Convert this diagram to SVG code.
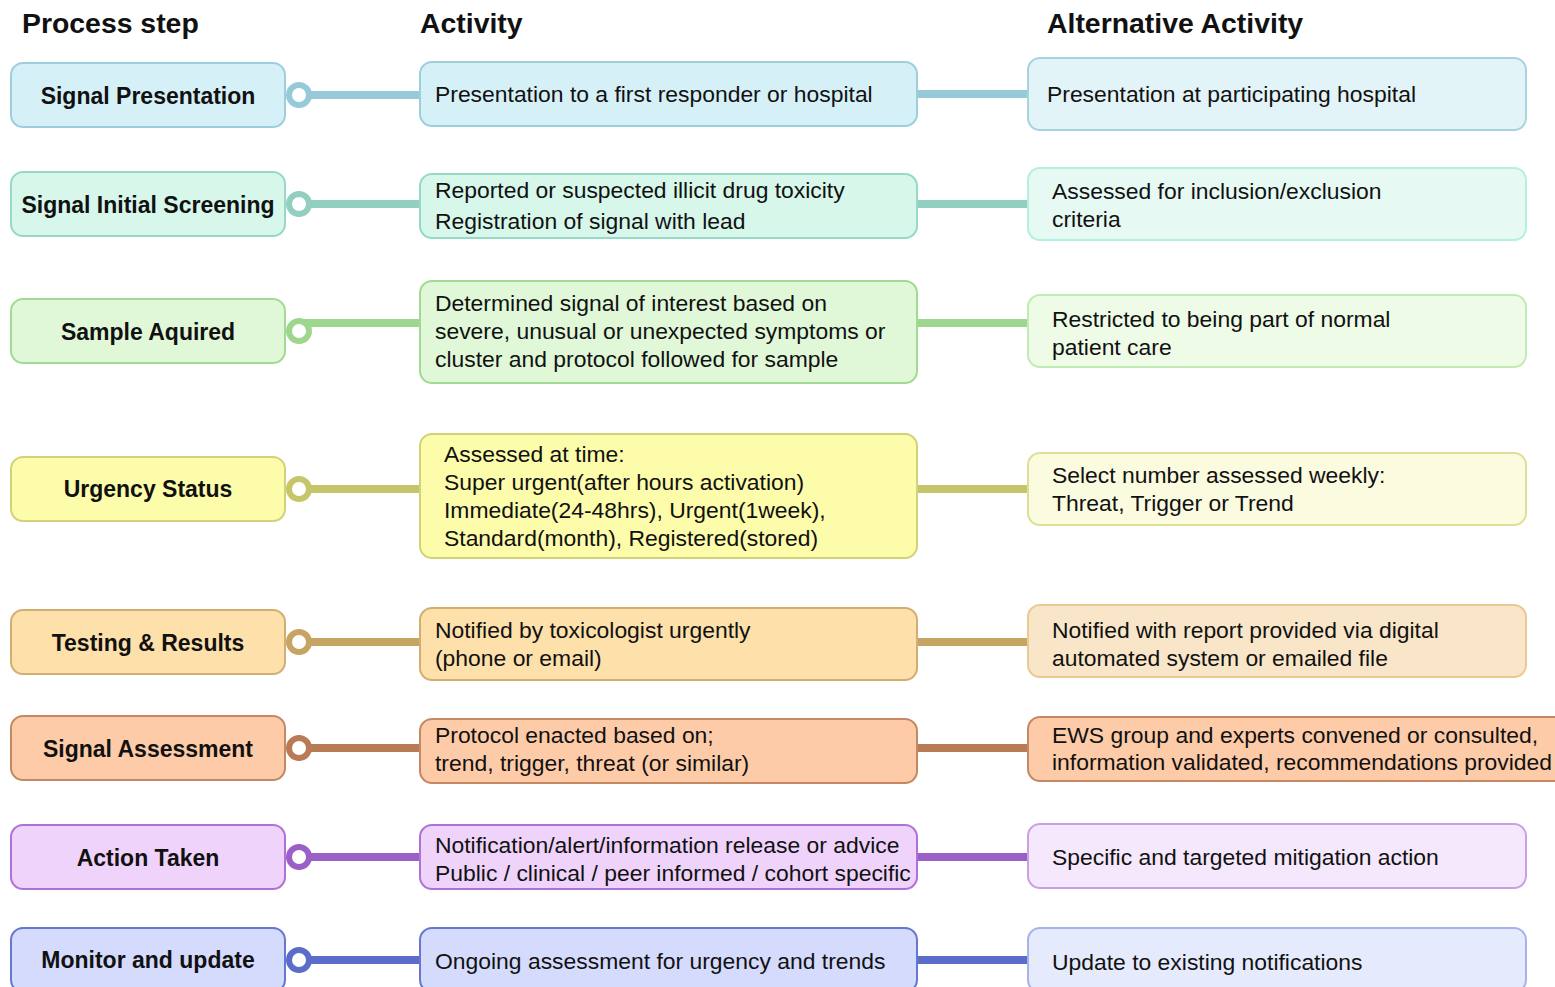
<svg xmlns="http://www.w3.org/2000/svg" width="1555" height="987" viewBox="0 0 1555 987">
<style>
text{font-family:"Liberation Sans",Arial,sans-serif;fill:#111;}
.h{font-size:28.4px;font-weight:bold;}
.l{font-size:23px;font-weight:bold;text-anchor:middle;}
.t{font-size:22.9px;}
rect{stroke-width:2;}
.c{fill:none;stroke-width:8;}
.o{fill:#fff;stroke-width:6;}
</style>
<rect width="1555" height="987" fill="#fff"/>
<g id="headers">
<text class="h" x="22" y="33">Process step</text>
<text class="h" x="420" y="33">Activity</text>
<text class="h" x="1047" y="33">Alternative Activity</text>
</g>
<g id="connectors">
<line class="c" stroke="#96cad8" x1="300" y1="95" x2="420" y2="95"/>
<line class="c" stroke="#96cad8" x1="917" y1="94" x2="1028" y2="94"/>
<line class="c" stroke="#92cfc0" x1="300" y1="204" x2="420" y2="204"/>
<line class="c" stroke="#92cfc0" x1="917" y1="204" x2="1028" y2="204"/>
<line class="c" stroke="#9dd68c" x1="300" y1="323" x2="420" y2="323"/>
<line class="c" stroke="#9dd68c" x1="917" y1="323" x2="1028" y2="323"/>
<line class="c" stroke="#c5c56a" x1="300" y1="489" x2="420" y2="489"/>
<line class="c" stroke="#c5c56a" x1="917" y1="489" x2="1028" y2="489"/>
<line class="c" stroke="#c6a462" x1="300" y1="642" x2="420" y2="642"/>
<line class="c" stroke="#c6a462" x1="917" y1="642" x2="1028" y2="642"/>
<line class="c" stroke="#b97b55" x1="300" y1="748" x2="420" y2="748"/>
<line class="c" stroke="#b97b55" x1="917" y1="748" x2="1028" y2="748"/>
<line class="c" stroke="#9b5fc8" x1="300" y1="857" x2="420" y2="857"/>
<line class="c" stroke="#9b5fc8" x1="917" y1="857" x2="1028" y2="857"/>
<line class="c" stroke="#5b6dc8" x1="300" y1="960" x2="420" y2="960"/>
<line class="c" stroke="#5b6dc8" x1="917" y1="960" x2="1028" y2="960"/>
<circle class="o" stroke="#96cad8" cx="299" cy="95" r="10"/>
<circle class="o" stroke="#92cfc0" cx="299" cy="204" r="10"/>
<circle class="o" stroke="#9dd68c" cx="299" cy="331" r="10"/>
<circle class="o" stroke="#c5c56a" cx="299" cy="489" r="10"/>
<circle class="o" stroke="#c6a462" cx="299" cy="642" r="10"/>
<circle class="o" stroke="#b97b55" cx="299" cy="748" r="10"/>
<circle class="o" stroke="#9b5fc8" cx="299" cy="857" r="10"/>
<circle class="o" stroke="#5b6dc8" cx="299" cy="960" r="10"/>
</g>
<g id="step1">
<rect x="11" y="63" width="274" height="64" rx="12" fill="#d6f0f7" stroke="#9ccfdb"/>
<text class="l" x="148" y="104">Signal Presentation</text>
</g>
<g id="act1">
<rect x="420" y="62" width="497" height="64" rx="12" fill="#d6f0f7" stroke="#9ccfdb"/>
<text class="t" x="435" y="102">Presentation to a first responder or hospital</text>
</g>
<g id="alt1">
<rect x="1028" y="58" width="498" height="72" rx="12" fill="#e3f4f8" stroke="#a6d3de"/>
<text class="t" x="1047" y="102">Presentation at participating hospital</text>
</g>
<g id="step2">
<rect x="11" y="172" width="274" height="64" rx="12" fill="#d6f7ea" stroke="#98d8c6"/>
<text class="l" x="148" y="213">Signal Initial Screening</text>
</g>
<g id="act2">
<rect x="420" y="174" width="497" height="64" rx="12" fill="#d6f7ea" stroke="#98d8c6"/>
<text class="t" x="435" y="198">Reported or suspected illicit drug toxicity</text>
<text class="t" x="435" y="229">Registration of signal with lead</text>
</g>
<g id="alt2">
<rect x="1028" y="168" width="498" height="72" rx="12" fill="#e6faf3" stroke="#b2f0df"/>
<text class="t" x="1052" y="199">Assessed for inclusion/exclusion</text>
<text class="t" x="1052" y="227">criteria</text>
</g>
<g id="step3">
<rect x="11" y="299" width="274" height="64" rx="12" fill="#e0f8d8" stroke="#a2da93"/>
<text class="l" x="148" y="340">Sample Aquired</text>
</g>
<g id="act3">
<rect x="420" y="281" width="497" height="102" rx="12" fill="#e0f8d8" stroke="#a2da93"/>
<text class="t" x="435" y="311">Determined signal of interest based on</text>
<text class="t" x="435" y="339">severe, unusual or unexpected symptoms or</text>
<text class="t" x="435" y="367">cluster and protocol followed for sample</text>
</g>
<g id="alt3">
<rect x="1028" y="295" width="498" height="72" rx="12" fill="#edfbe7" stroke="#c2eab4"/>
<text class="t" x="1052" y="327">Restricted to being part of normal</text>
<text class="t" x="1052" y="355">patient care</text>
</g>
<g id="step4">
<rect x="11" y="457" width="274" height="64" rx="12" fill="#fcfcaa" stroke="#d2d27a"/>
<text class="l" x="148" y="497">Urgency Status</text>
</g>
<g id="act4">
<rect x="420" y="434" width="497" height="124" rx="12" fill="#fcfcaa" stroke="#d2d27a"/>
<text class="t" x="444" y="462">Assessed at time:</text>
<text class="t" x="444" y="490">Super urgent(after hours activation)</text>
<text class="t" x="444" y="518">Immediate(24-48hrs), Urgent(1week),</text>
<text class="t" x="444" y="546">Standard(month), Registered(stored)</text>
</g>
<g id="alt4">
<rect x="1028" y="453" width="498" height="72" rx="12" fill="#fbfbe0" stroke="#dede98"/>
<text class="t" x="1052" y="483">Select number assessed weekly:</text>
<text class="t" x="1052" y="511">Threat, Trigger or Trend</text>
</g>
<g id="step5">
<rect x="11" y="610" width="274" height="64" rx="12" fill="#fde0aa" stroke="#d2ae72"/>
<text class="l" x="148" y="651">Testing &amp; Results</text>
</g>
<g id="act5">
<rect x="420" y="608" width="497" height="72" rx="12" fill="#fde0aa" stroke="#d2ae72"/>
<text class="t" x="435" y="638">Notified by toxicologist urgently</text>
<text class="t" x="435" y="666">(phone or email)</text>
</g>
<g id="alt5">
<rect x="1028" y="605" width="498" height="72" rx="12" fill="#f9e6c8" stroke="#e8c994"/>
<text class="t" x="1052" y="638">Notified with report provided via digital</text>
<text class="t" x="1052" y="666">automated system or emailed file</text>
</g>
<g id="step6">
<rect x="11" y="716" width="274" height="64" rx="12" fill="#fecba8" stroke="#c48862"/>
<text class="l" x="148" y="757">Signal Assessment</text>
</g>
<g id="act6">
<rect x="420" y="719" width="497" height="64" rx="12" fill="#fecba8" stroke="#c48862"/>
<text class="t" x="435" y="743">Protocol enacted based on;</text>
<text class="t" x="435" y="771">trend, trigger, threat (or similar)</text>
</g>
<g id="alt6">
<rect x="1028" y="717" width="540" height="64" rx="12" fill="#fecba8" stroke="#c48862"/>
<text class="t" x="1052" y="743">EWS group and experts convened or consulted,</text>
<text class="t" x="1052" y="770">information validated, recommendations provided</text>
</g>
<g id="step7">
<rect x="11" y="825" width="274" height="64" rx="12" fill="#efd3fb" stroke="#ae72d6"/>
<text class="l" x="148" y="866">Action Taken</text>
</g>
<g id="act7">
<rect x="420" y="825" width="497" height="64" rx="12" fill="#efd3fb" stroke="#ae72d6"/>
<text class="t" x="435" y="853">Notification/alert/information release or advice</text>
<text class="t" x="435" y="881">Public / clinical / peer informed / cohort specific</text>
</g>
<g id="alt7">
<rect x="1028" y="824" width="498" height="64" rx="12" fill="#f5e8fc" stroke="#caa0e4"/>
<text class="t" x="1052" y="865">Specific and targeted mitigation action</text>
</g>
<g id="step8">
<rect x="11" y="928" width="274" height="64" rx="12" fill="#d5dbfd" stroke="#6677cc"/>
<text class="l" x="148" y="968">Monitor and update</text>
</g>
<g id="act8">
<rect x="420" y="928" width="497" height="64" rx="12" fill="#d5dbfd" stroke="#6677cc"/>
<text class="t" x="435" y="969">Ongoing assessment for urgency and trends</text>
</g>
<g id="alt8">
<rect x="1028" y="928" width="498" height="64" rx="12" fill="#e6eafd" stroke="#a8b2ea"/>
<text class="t" x="1052" y="970">Update to existing notifications</text>
</g>
</svg>
